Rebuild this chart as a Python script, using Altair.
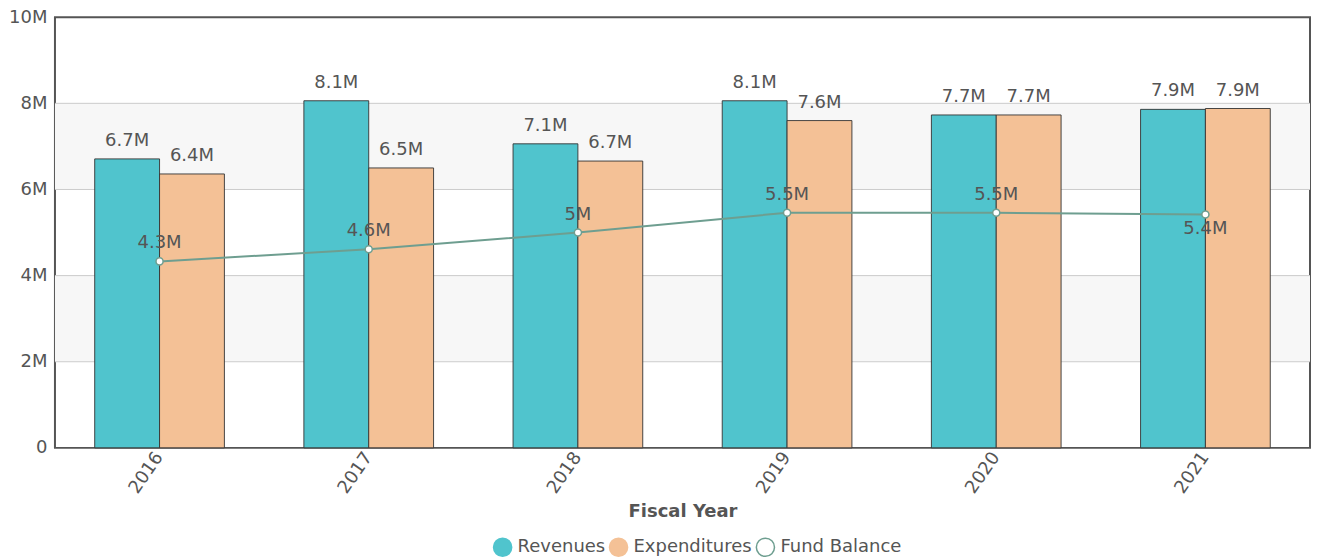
import altair as alt
import pandas as pd

years = ["2016", "2017", "2018", "2019", "2020", "2021"]
revenues = [6.71e6, 8.06e6, 7.06e6, 8.06e6, 7.73e6, 7.86e6]
expenditures = [6.36e6, 6.50e6, 6.66e6, 7.60e6, 7.73e6, 7.88e6]
fund_balance = [4.33e6, 4.61e6, 5.00e6, 5.46e6, 5.46e6, 5.42e6]
series_names = ["Revenues", "Expenditures", "Fund Balance"]
band_starts = [2e6, 6e6]
band_ends = [4e6, 8e6]
y_ticks = [0, 2e6, 4e6, 6e6, 8e6, 10e6]
grid_values = [2e6, 4e6, 6e6, 8e6]

C_REV = "#50c4cd"
C_EXP = "#f4c196"
C_FB = "#6e9e90"
TXT = "#555555"
FONT = "DejaVu Sans"
FS = 18

bars_df = pd.DataFrame(
    [{"year": y, "series": "Revenues", "value": v} for y, v in zip(years, revenues)]
    + [{"year": y, "series": "Expenditures", "value": v} for y, v in zip(years, expenditures)]
)
fb_df = pd.DataFrame({"year": years, "value": fund_balance, "series": "Fund Balance",
                      "below": [False, False, False, False, False, True]})
bands_df = pd.DataFrame({"y0": band_starts, "y1": band_ends})
grid_df = pd.DataFrame({"g": grid_values})

x_enc = alt.X("year:N", title="Fiscal Year",
              scale=alt.Scale(domain=years, paddingInner=0.38, paddingOuter=0.19),
              axis=alt.Axis(labelAngle=305, labelAlign="right", labelBaseline="middle",
                            labelFontSize=FS, labelColor=TXT, labelFont=FONT,
                            titleFontSize=FS, titleColor=TXT, titleFont=FONT, titleFontWeight="bold",
                            titlePadding=6, ticks=False, domain=False, labelPadding=6))
y_scale = alt.Scale(domain=[0, 10e6], nice=False)
y_enc = alt.Y("value:Q", scale=y_scale, title=None,
              axis=alt.Axis(values=y_ticks,
                            labelExpr="datum.value == 0 ? '0' : format(datum.value, '~s')",
                            labelFontSize=FS, labelColor=TXT,
                            labelFont=FONT, ticks=False, domain=False, labelPadding=8,
                            grid=False))

fill_scale = alt.Scale(domain=series_names, range=[C_REV, C_EXP, "#ffffff"])
stroke_scale = alt.Scale(domain=series_names, range=[C_REV, C_EXP, C_FB])
legend = alt.Legend(title=None, orient="none", legendX=438, legendY=520,
                    direction="horizontal", symbolType="circle",
                    symbolSize=330, symbolStrokeWidth=1.5, labelFontSize=FS, labelColor=TXT,
                    labelFont=FONT, columnPadding=0, labelOffset=5)

bands = alt.Chart(bands_df).mark_rect(color="#f7f7f7").encode(
    y=alt.Y("y0:Q", scale=y_scale), y2="y1:Q"
)

grid = alt.Chart(grid_df).mark_rule(color="#cccccc", strokeWidth=1).encode(
    y=alt.Y("g:Q", scale=y_scale)
)

bars = alt.Chart(bars_df).mark_bar(stroke="#333333", strokeWidth=1, strokeOpacity=0.9).encode(
    x=x_enc,
    xOffset=alt.XOffset("series:N", sort=["Revenues", "Expenditures"]),
    y=y_enc,
    fill=alt.Fill("series:N", scale=fill_scale, legend=legend),
)

bar_labels = alt.Chart(bars_df).mark_text(
    fontSize=FS, color=TXT, font=FONT, baseline="alphabetic", dy=-13
).encode(
    x="year:N",
    xOffset=alt.XOffset("series:N", sort=["Revenues", "Expenditures"]),
    y=alt.Y("value:Q", scale=y_scale),
    text=alt.Text("value:Q", format=".2~s"),
)

line = alt.Chart(fb_df).mark_line(strokeWidth=2).encode(
    x="year:N",
    y=alt.Y("value:Q", scale=y_scale),
    stroke=alt.Stroke("series:N", scale=stroke_scale, legend=legend),
)

points = alt.Chart(fb_df).mark_point(filled=True, fill="white", stroke=C_FB, size=50,
                                     strokeWidth=1.5, opacity=1, shape="circle").encode(
    x="year:N",
    y=alt.Y("value:Q", scale=y_scale),
)

fb_labels_above = alt.Chart(fb_df).transform_filter("!datum.below").mark_text(
    fontSize=FS, color=TXT, font=FONT, baseline="alphabetic", dy=-13
).encode(
    x="year:N", y=alt.Y("value:Q", scale=y_scale),
    text=alt.Text("value:Q", format=".2~s"),
)
fb_labels_below = alt.Chart(fb_df).transform_filter("datum.below").mark_text(
    fontSize=FS, color=TXT, font=FONT, baseline="alphabetic", dy=20
).encode(
    x="year:N", y=alt.Y("value:Q", scale=y_scale),
    text=alt.Text("value:Q", format=".2~s"),
)

chart = alt.layer(bands, grid, bars, bar_labels, line, points, fb_labels_above, fb_labels_below).properties(
    width=1256, height=431,
    padding={"left": 0, "top": 0, "right": 0, "bottom": 0},
).configure_view(
    stroke="#555555", strokeWidth=2
)

chart.save("out.html", embed_options={"renderer": "svg", "actions": False})
